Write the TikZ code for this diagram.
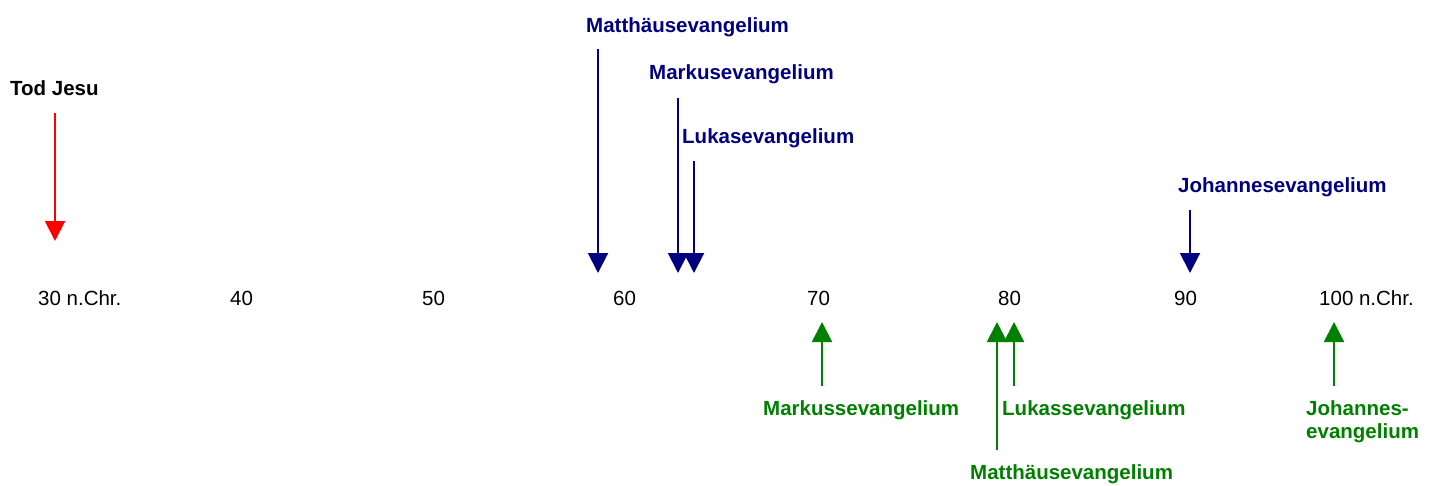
\documentclass[tikz,border=0pt]{standalone}
\usepackage{fontspec}
\setmainfont{Liberation Sans}
\usetikzlibrary{arrows.meta}

\definecolor{navyblue}{RGB}{0,0,128}
\definecolor{darkgreen}{RGB}{0,128,0}

\tikzset{
	year/.style={anchor=base west, inner sep=0pt, font=\fontsize{20.5}{24}\selectfont},
	label/.style={anchor=base west, inner sep=0pt, font=\fontsize{20.5}{24}\selectfont\bfseries},
	pointer/.style={line width=2pt, -{Triangle[width=20pt,length=20pt]}},
}

\begin{document}
\begin{tikzpicture}[x=1pt, y=-1pt]
	\useasboundingbox (0,0) rectangle (1435,485);

	% Time axis
	\node[year] (y30) at (38,305) {30 n.Chr.};
	\node[year] (y40) at (230,305) {40};
	\node[year] (y50) at (422,305) {50};
	\node[year] (y60) at (613,305) {60};
	\node[year] (y70) at (807,305) {70};
	\node[year] (y80) at (998,305) {80};
	\node[year] (y90) at (1174,305) {90};
	\node[year] (y100) at (1319,305) {100 n.Chr.};

	% Death of Jesus
	\node[label] (tod) at (10,95) {Tod Jesu};
	\coordinate (todA) at (55,113);
	\coordinate (todB) at (55,241);
	\draw[pointer, red] (todA) -- (todB);

	% Early dating (above)
	\node[label, text=navyblue] (mtEarly) at (586,32) {Matthäusevangelium};
	\node[label, text=navyblue] (mkEarly) at (649,79) {Markusevangelium};
	\node[label, text=navyblue] (lkEarly) at (682,143) {Lukasevangelium};
	\node[label, text=navyblue] (joEarly) at (1178,192) {Johannesevangelium};

	\coordinate (mtA) at (598,49);   \coordinate (mtB) at (598,273);
	\coordinate (mkA) at (678,98);   \coordinate (mkB) at (678,273);
	\coordinate (lkA) at (694,161);  \coordinate (lkB) at (694,273);
	\coordinate (joA) at (1190,210); \coordinate (joB) at (1190,273);
	\draw[pointer, navyblue] (mtA) -- (mtB);
	\draw[pointer, navyblue] (mkA) -- (mkB);
	\draw[pointer, navyblue] (lkA) -- (lkB);
	\draw[pointer, navyblue] (joA) -- (joB);

	% Late dating (below)
	\node[label, text=darkgreen] (mkLate) at (763,415) {Markussevangelium};
	\node[label, text=darkgreen] (lkLate) at (1002,415) {Lukassevangelium};
	\node[label, text=darkgreen] (mtLate) at (970,479) {Matthäusevangelium};
	\node[label, text=darkgreen, align=left, anchor=north west, font=\fontsize{20.5}{23}\selectfont\bfseries] (joLate) at (1306,400) {Johannes-\\evangelium};

	\coordinate (mkC) at (822,386);  \coordinate (mkD) at (822,322);
	\coordinate (mtC) at (997,450);  \coordinate (mtD) at (997,322);
	\coordinate (lkC) at (1014,386); \coordinate (lkD) at (1014,322);
	\coordinate (joC) at (1334,386); \coordinate (joD) at (1334,322);
	\draw[pointer, darkgreen] (mkC) -- (mkD);
	\draw[pointer, darkgreen] (mtC) -- (mtD);
	\draw[pointer, darkgreen] (lkC) -- (lkD);
	\draw[pointer, darkgreen] (joC) -- (joD);
\end{tikzpicture}
\end{document}
